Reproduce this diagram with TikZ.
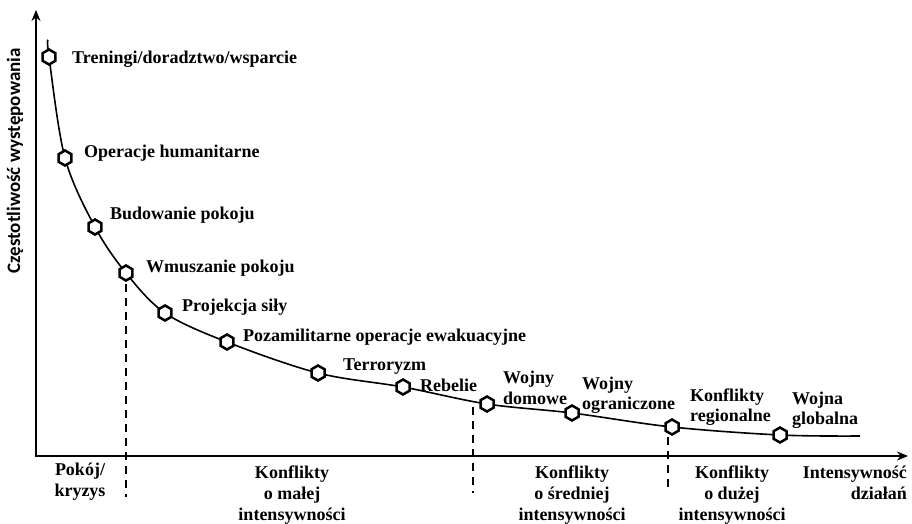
\documentclass[tikz,border=0pt]{standalone}
\usepackage{fontspec}
\setmainfont{Liberation Serif}
\newfontfamily\axisfont{Carlito}
\usetikzlibrary{arrows.meta,shapes.geometric}

\tikzset{
  axisline/.style={line width=2pt,-{Stealth[length=11pt,width=9pt]}},
  curveline/.style={line width=1.6pt},
  divider/.style={line width=1.6pt,dash pattern=on 8pt off 6pt},
  marker/.style={regular polygon,regular polygon sides=6,shape border rotate=90,
    draw,fill=white,line width=2.5pt,inner sep=0pt,minimum size=15pt},
  lbl/.style={font=\bfseries\fontsize{18}{20.5}\selectfont,inner sep=0pt,anchor=west,align=left},
  zone/.style={font=\bfseries\fontsize{18}{21}\selectfont,inner sep=0pt,anchor=north,align=center},
}

\begin{document}
\begin{tikzpicture}[x=1pt,y=-1pt]
\useasboundingbox (0,0) rectangle (912,523);

% axes
\coordinate (O) at (36,456);
\coordinate (ytip) at (36,10);
\coordinate (xtip) at (908,456);
\draw[axisline] (O) -- (ytip);
\draw[axisline] ([xshift=-1pt]O) -- (xtip);
\node[rotate=90,font=\axisfont\bfseries\fontsize{19}{22}\selectfont,inner sep=0pt]
  (ylabel) at (15,161) {Częstotliwość występowania};

% points on the curve
\coordinate (c0) at (48,40);
\coordinate (c1) at (49,57);
\coordinate (c2) at (65,158);
\coordinate (c3) at (95,227);
\coordinate (c4) at (126,273);
\coordinate (c5) at (165,313);
\coordinate (c6) at (227,342);
\coordinate (c7) at (318,373);
\coordinate (c8) at (403,387);
\coordinate (c9) at (487,404);
\coordinate (c10) at (572,413);
\coordinate (c11) at (672,427);
\coordinate (c12) at (780,435);
\coordinate (c13) at (860,436);

\draw[curveline] plot[smooth,tension=0.55] coordinates
  {(c0) (c1) (c2) (c3) (c4) (c5) (c6) (c7) (c8) (c9) (c10) (c11) (c12) (c13)};

% zone dividers
\coordinate (d1a) at (126,284);
\coordinate (d1b) at (126,497);
\coordinate (d2a) at (473,407);
\coordinate (d2b) at (473,493);
\coordinate (d3a) at (668,437);
\coordinate (d3b) at (668,488);
\draw[divider] (d1a) -- (d1b);
\draw[divider] (d2a) -- (d2b);
\draw[divider] (d3a) -- (d3b);

% markers
\foreach \i in {1,...,12} { \node[marker] (m\i) at (c\i) {}; }

% labels of the operations
\node[lbl] (l1) at (72,59) {Treningi/doradztwo/wsparcie};
\node[lbl] (l2) at (84,153) {Operacje humanitarne};
\node[lbl] (l3) at (110,215) {Budowanie pokoju};
\node[lbl] (l4) at (146,268) {Wmuszanie pokoju};
\node[lbl] (l5) at (182,307) {Projekcja siły};
\node[lbl] (l6) at (243,337) {Pozamilitarne operacje ewakuacyjne};
\node[lbl] (l7) at (343,367) {Terroryzm};
\node[lbl] (l8) at (420,385) {Rebelie};
\node[lbl] (l9) at (503,388) {Wojny\\domowe};
\node[lbl] (l10) at (582,395) {Wojny\\ograniczone};
\node[lbl] (l11) at (690,407) {Konflikty\\regionalne};
\node[lbl] (l12) at (792,410) {Wojna\\globalna};

% zones along the intensity axis
\node[zone] (z1) at (80,463) {Pokój/\\kryzys};
\node[zone] (z2) at (292,466) {Konflikty\\o małej\\intensywności};
\node[zone] (z3) at (572,466) {Konflikty\\o średniej\\intensywności};
\node[zone] (z4) at (732,466) {Konflikty\\o dużej\\intensywności};
\node[zone,anchor=north east,align=right] (xlabel) at (907,466) {Intensywność\\działań};
\end{tikzpicture}
\end{document}
